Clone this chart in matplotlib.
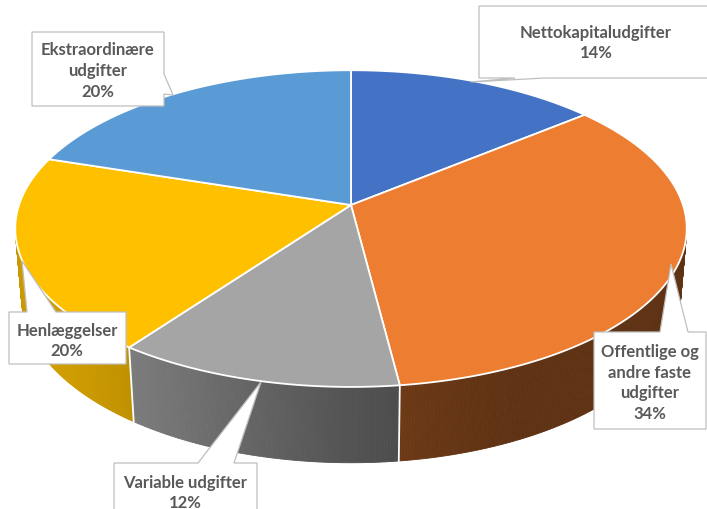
import numpy as np
import matplotlib.pyplot as plt
from matplotlib.patches import Polygon

# data
names = ["Nettokapitaludgifter", "Offentlige og\nandre faste\nudgifter",
         "Variable udgifter", "Henlæggelser", "Ekstraordinære\nudgifter"]
shares = [14, 34, 12, 20, 20]
colors = ["#4472C4", "#ED7D31", "#A5A5A5", "#FFC000", "#5B9BD5"]

# callout boxes (pixel coords): box x0, y0, x1, y1, text center, pointer
boxes = [
    dict(box=(479, 7, 712, 79), txt=(596, 43), side="bottom", base=(515, 545), tip=(471, 83)),
    dict(box=(594, 333, 706, 430), txt=(650, 383), side="top", base=(660, 688), tip=(671, 265)),
    dict(box=(114, 464, 257, 520), txt=(185, 493), side="top", base=(198, 234), tip=(261, 383)),
    dict(box=(9, 313, 126, 365), txt=(67, 341), side="top", base=(27, 56), tip=(22, 262)),
    dict(box=(32, 33, 164, 107), txt=(98, 71), side="right", base=(75, 95), tip=(173, 96)),
]

# perspective camera for the 3d pie
CX, CY = 351, 206
F, D = 1972, 5.94
EL = np.radians(27.8)
H = 0.236


def proj(theta, r=1.0, z=0.0):
    X = r * np.sin(theta)
    Y = r * np.cos(theta)
    up = Y * np.sin(EL) + z * np.cos(EL)
    dep = D + Y * np.cos(EL) - z * np.sin(EL)
    return np.column_stack([CX + F * X / dep, CY - F * up / dep])


def shade(hexcol, theta):
    rgb = np.array(plt.matplotlib.colors.to_rgb(hexcol))
    c = max(0.0, np.cos(theta - np.radians(240)))
    return np.clip(rgb * (0.40 + 0.42 * c ** 2), 0, 1)


fig = plt.figure(figsize=(7.07, 5.10), dpi=100)
ax = fig.add_axes([0, 0, 1, 1])
ax.set_xlim(0, 707)
ax.set_ylim(510, 0)
ax.axis("off")

bounds = np.radians(np.concatenate([[0], np.cumsum(shares)]) * 3.6)

# side wall, far segments first
segs = []
for i in range(len(shares)):
    th = np.linspace(bounds[i], bounds[i + 1], int(shares[i] * 8) + 2)
    for a, b in zip(th[:-1], th[1:]):
        m = (a + b) / 2
        if np.cos(m) < -1 / (D * np.cos(EL)) + 0.02:
            top = proj(np.array([a, b]))
            bot = proj(np.array([b, a]), z=-H)
            dep = D + np.cos(m) * np.cos(EL)
            segs.append((dep, np.vstack([top, bot]), shade(colors[i], m)))
segs.sort(key=lambda s: -s[0])
for dep, pts, col in segs:
    ax.add_patch(Polygon(pts, closed=True, fc=col, ec=col, lw=0.6, zorder=1))

# white seams on the wall
for b in bounds[1:-1]:
    if np.cos(b) < -1 / (D * np.cos(EL)):
        p = np.vstack([proj(np.array([b])), proj(np.array([b]), z=-H)])
        ax.plot(p[:, 0], p[:, 1], color="white", lw=1.3, zorder=2)

# top face
for i in range(len(shares)):
    th = np.linspace(bounds[i], bounds[i + 1], 200)
    pts = np.vstack([[CX, CY], proj(th)])
    ax.add_patch(Polygon(pts, closed=True, fc=colors[i], ec="white", lw=1.3,
                         joinstyle="round", zorder=3))

# callouts
for i, bx in enumerate(boxes):
    x0, y0, x1, y1 = bx["box"]
    b0, b1 = bx["base"]
    tip = bx["tip"]
    if bx["side"] == "top":
        pts = [(x0, y0), (b0, y0), tip, (b1, y0), (x1, y0), (x1, y1), (x0, y1)]
    elif bx["side"] == "bottom":
        pts = [(x0, y0), (x1, y0), (x1, y1), (b1, y1), tip, (b0, y1), (x0, y1)]
    else:
        pts = [(x0, y0), (x1, y0), (x1, b0), tip, (x1, b1), (x1, y1), (x0, y1)]
    ax.add_patch(Polygon(pts, closed=True, fc="white", ec="#BFBFBF", lw=0.9, zorder=5))
    ax.text(bx["txt"][0], bx["txt"][1], f"{names[i]}\n{shares[i]}%",
            ha="center", va="center", fontsize=12, fontweight="bold",
            family="Lato", color="#595959", linespacing=1.35, zorder=6)

fig.savefig("out.png", dpi=100)
